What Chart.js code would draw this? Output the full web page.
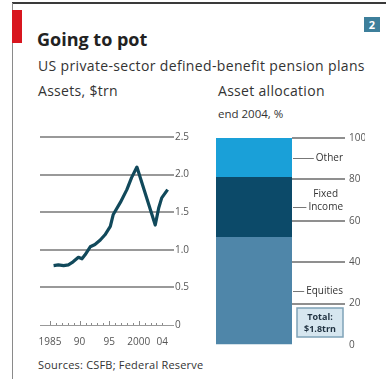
<!DOCTYPE html>
<html>
<head>
<meta charset="utf-8">
<script src="https://cdn.jsdelivr.net/npm/chart.js@4.4.1/dist/chart.umd.min.js"></script>
<style>
  html, body { margin: 0; padding: 0; background: #fff; }
  #page { position: relative; width: 386px; height: 379px; overflow: hidden; background: #fff; font-family: 'Open Sans', sans-serif; }
  #page canvas { position: absolute; left: 0; top: 0; }
  .txt { position: absolute; white-space: nowrap; color: #333; }
  #topline { position: absolute; left: 12px; top: 2px; width: 374px; height: 2px; background: #3a3a3a; }
  #leftline { position: absolute; left: 12px; top: 3px; width: 1px; height: 376px; background: #8a8a8a; }
  #redtab { position: absolute; left: 12px; top: 10px; width: 10px; height: 33px; background: #d8161f; }
  #num { position: absolute; left: 364px; top: 17px; width: 16px; height: 15px; background: #3d7f9b; color: #fff; font-weight: bold; font-size: 11px; line-height: 15px; text-align: center; }
</style>
</head>
<body>
<div id="page">
  <div id="topline"></div>
  <div id="leftline"></div>
  <div id="redtab"></div>
  <div id="num">2</div>
  <div class="txt" style="left:37px; top:27px; font-size:18px; font-weight:bold; color:#222;">Going to pot</div>
  <div class="txt" style="left:38px; top:56px; font-size:14px; letter-spacing:0.35px;">US private-sector defined-benefit pension plans</div>
  <div class="txt" style="left:38px; top:81px; font-size:14px; letter-spacing:0.3px;">Assets, $trn</div>
  <div class="txt" style="left:218px; top:81px; font-size:14px; letter-spacing:0.3px;">Asset allocation</div>
  <div class="txt" style="left:218px; top:106px; font-size:11.5px;">end 2004, %</div>
  <div class="txt" style="left:38px; top:357px; font-size:11px; letter-spacing:0.2px;">Sources: CSFB; Federal Reserve</div>
  <canvas id="assets-chart" width="386" height="379"></canvas>
  <canvas id="alloc-chart" width="386" height="379"></canvas>
</div>
<script>
// 資產規模 (左圖)
const assetYears = [1985.6, 1986.4, 1987.3, 1988.1, 1988.9, 1989.8, 1990.4, 1990.9, 1991.8, 1992.6, 1993.5,
                    1994.3, 1995.2, 1995.7, 1996.9, 1998.0, 1998.8, 1999.7, 2002.8, 2003.4, 2003.9, 2004.9];
const assetValues = [0.79, 0.80, 0.79, 0.80, 0.84, 0.90, 0.88, 0.93, 1.04, 1.07, 1.13,
                     1.20, 1.31, 1.47, 1.63, 1.80, 1.96, 2.10, 1.33, 1.56, 1.69, 1.80];
const xTickYears = [1985, 1990, 1995, 2000, 2004];
const xTickLabels = ['1985', '90', '95', '2000', '04'];
const yTickValues = [0, 0.5, 1.0, 1.5, 2.0, 2.5];
const yTickLabels = ['0', '0.5', '1.0', '1.5', '2.0', '2.5'];

// 資產配置 (右圖)
const allocCategories = ['Equities', 'Fixed income', 'Other'];
const allocLabelLines = [['Equities'], ['Fixed', 'Income'], ['Other']];
const allocShares = [52, 29, 19];
const allocTicks = [0, 20, 40, 60, 80, 100];
const totalAssets = 1.8;

const tickFont = { family: 'Open Sans', size: 10 };
const tickColor = '#555';

// 年份小刻度
const yearTicksPlugin = {
    id: 'yearTicks',
    afterDraw(chart) {
        const x = chart.scales.x;
        const base = chart.scales.y.getPixelForValue(0);
        const ctx = chart.ctx;
        ctx.save();
        ctx.strokeStyle = '#8a8a8a';
        ctx.lineWidth = 1;
        for (let yr = 1985; yr <= 2004; yr++) {
            const px = Math.round(x.getPixelForValue(yr)) + 0.5;
            const len = (yr % 5 === 0) ? 4 : 2;
            ctx.beginPath();
            ctx.moveTo(px, base);
            ctx.lineTo(px, base - len);
            ctx.stroke();
        }
        ctx.restore();
    }
};

new Chart(document.getElementById('assets-chart'), {
    type: 'line',
    data: {
        datasets: [{
            data: assetYears.map((yr, i) => ({ x: yr, y: assetValues[i] })),
            borderColor: '#11495b',
            borderWidth: 3.2,
            pointRadius: 0,
            tension: 0,
            borderJoinStyle: 'round'
        }]
    },
    options: {
        responsive: false,
        animation: false,
        layout: { padding: { left: 40, top: 137, right: 194, bottom: 30 } },
        plugins: { legend: { display: false }, tooltip: { enabled: false } },
        scales: {
            x: {
                type: 'linear',
                min: 1983.3,
                max: 2005.3,
                grid: { display: false, drawTicks: false },
                border: { display: false },
                afterBuildTicks: s => { s.ticks = xTickYears.map(v => ({ value: v })); },
                afterFit: s => { s.height = 24; },
                ticks: {
                    autoSkip: false,
                    maxRotation: 0,
                    padding: 11,
                    font: tickFont,
                    color: tickColor,
                    callback: v => xTickLabels[xTickYears.indexOf(v)]
                }
            },
            y: {
                position: 'right',
                min: 0,
                max: 2.5,
                afterBuildTicks: s => { s.ticks = yTickValues.map(v => ({ value: v })); },
                afterFit: s => { s.width = 22; },
                grid: {
                    color: '#999',
                    lineWidth: c => (c.tick && c.tick.value === 0) ? 1 : 2,
                    tickLength: 4
                },
                border: { display: false },
                ticks: {
                    padding: 1,
                    font: tickFont,
                    color: tickColor,
                    callback: v => yTickLabels[yTickValues.indexOf(v)]
                }
            }
        }
    },
    plugins: [yearTicksPlugin]
});

// 分類標籤與總額方框
const allocLabelsPlugin = {
    id: 'allocLabels',
    afterDraw(chart) {
        const ctx = chart.ctx;
        const area = chart.chartArea;
        const y = chart.scales.y;
        const textRight = area.right + 51;
        ctx.save();
        ctx.font = '10px "Open Sans"';
        ctx.fillStyle = '#333';
        ctx.strokeStyle = '#777';
        ctx.lineWidth = 1;
        ctx.textBaseline = 'middle';
        ctx.textAlign = 'center';
        let start = 0;
        allocShares.forEach((share, i) => {
            const lines = allocLabelLines[i];
            const py = y.getPixelForValue(start + share / 2);
            const widths = lines.map(l => ctx.measureText(l).width);
            const maxW = Math.max(...widths);
            const cx = textRight - maxW / 2;
            lines.forEach((l, j) => {
                ctx.fillText(l, cx, py - (lines.length - 1 - j) * 13);
            });
            const lastLeft = cx - widths[widths.length - 1] / 2;
            ctx.beginPath();
            ctx.moveTo(area.right + 1, Math.round(py) + 0.5);
            ctx.lineTo(lastLeft - 2, Math.round(py) + 0.5);
            ctx.stroke();
            start += share;
        });

        // 總額
        const bx = area.right + 5;
        const bw = textRight - bx;
        const bh = 29;
        const by = area.bottom - 8 - bh;
        ctx.fillStyle = '#d6e6ef';
        ctx.fillRect(bx, by, bw, bh);
        ctx.strokeStyle = '#7fa3b8';
        ctx.lineWidth = 1.5;
        ctx.strokeRect(bx, by, bw, bh);
        ctx.fillStyle = '#1f3140';
        ctx.font = 'bold 9px "Open Sans"';
        ctx.fillText('Total:', bx + bw / 2, by + 9);
        ctx.fillText('$' + totalAssets + 'trn', bx + bw / 2, by + 21);
        ctx.restore();
    }
};

const allocColors = ['#4f86a9', '#0c4a69', '#1aa0d8'];

new Chart(document.getElementById('alloc-chart'), {
    type: 'bar',
    data: {
        labels: ['2004'],
        datasets: allocCategories.map((name, i) => ({
            label: name,
            data: [allocShares[i]],
            backgroundColor: allocColors[i],
            borderWidth: 0,
            barPercentage: 1,
            categoryPercentage: 1
        }))
    },
    options: {
        responsive: false,
        animation: false,
        layout: { padding: { left: 216, top: 138, right: 21, bottom: 34 } },
        plugins: { legend: { display: false }, tooltip: { enabled: false } },
        scales: {
            x: { display: false, stacked: true },
            y: {
                stacked: true,
                position: 'right',
                min: 0,
                max: 100,
                afterBuildTicks: s => { s.ticks = allocTicks.map(v => ({ value: v })); },
                afterFit: s => { s.width = 73; },
                grid: {
                    drawOnChartArea: false,
                    tickLength: 53,
                    lineWidth: 2,
                    color: c => (c.tick && c.tick.value === 0) ? 'rgba(0,0,0,0)' : '#8f8f8f'
                },
                border: { display: false },
                ticks: {
                    padding: 4,
                    font: tickFont,
                    color: tickColor
                }
            }
        }
    },
    plugins: [allocLabelsPlugin]
});
</script>
</body>
</html>
